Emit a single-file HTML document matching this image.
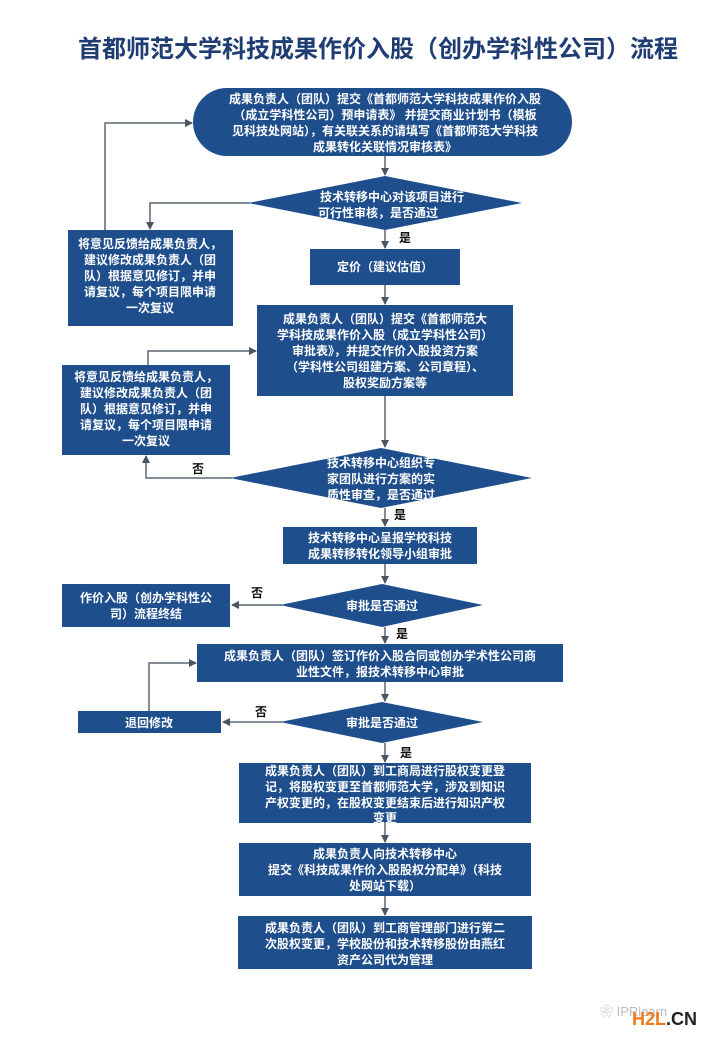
<!DOCTYPE html>
<html><head><meta charset="utf-8"><style>
html,body{margin:0;padding:0;background:#fff;}
svg{display:block;}
text{font-family:"Liberation Sans","Noto Sans CJK SC",sans-serif;}
.w{fill:#fff;font-size:12px;font-weight:bold;text-anchor:middle;}
.k{fill:#111;font-size:12px;font-weight:bold;}
.b{fill:#1f4e8d;}
.l{stroke:#5b6776;stroke-width:1.5;fill:none;}
</style></head><body>
<svg width="720" height="1040" viewBox="0 0 720 1040" xmlns="http://www.w3.org/2000/svg">
<defs><marker id="a" markerWidth="8" markerHeight="8" refX="7" refY="4" orient="auto" markerUnits="userSpaceOnUse"><path d="M0,0 L8,4 L0,8 z" fill="#4a5564"/></marker></defs>
<text x="378" y="57" style="font-size:24px;font-weight:bold;fill:#1f3d72;text-anchor:middle">首都师范大学科技成果作价入股（创办学科性公司）流程</text>

<path class="l" d="M385,156 V175" marker-end="url(#a)"/>
<path class="l" d="M385,230 V248" marker-end="url(#a)"/>
<path class="l" d="M385,285 V304" marker-end="url(#a)"/>
<path class="l" d="M385,396 V447" marker-end="url(#a)"/>
<path class="l" d="M385,508 V526" marker-end="url(#a)"/>
<path class="l" d="M385,564 V583" marker-end="url(#a)"/>
<path class="l" d="M385,627 V643" marker-end="url(#a)"/>
<path class="l" d="M385,682 V701" marker-end="url(#a)"/>
<path class="l" d="M385,743 V762" marker-end="url(#a)"/>
<path class="l" d="M385,823 V842" marker-end="url(#a)"/>
<path class="l" d="M385,896 V915" marker-end="url(#a)"/>
<path class="l" d="M250,203 H150 V229" marker-end="url(#a)"/>
<path class="l" d="M105,230 V123 H192" marker-end="url(#a)"/>
<path class="l" d="M148,365 V351 H256" marker-end="url(#a)"/>
<path class="l" d="M232,478 H146 V456" marker-end="url(#a)"/>
<path class="l" d="M282,605 H232" marker-end="url(#a)"/>
<path class="l" d="M282,722 H223" marker-end="url(#a)"/>
<path class="l" d="M149,711 V663 H196" marker-end="url(#a)"/>

<rect class="b" x="193" y="88" width="379" height="68" rx="34"/>
<text class="w" x="385" y="103">成果负责人（团队）提交《首都师范大学科技成果作价入股</text>
<text class="w" x="385" y="119">（成立学科性公司）预申请表》 并提交商业计划书（模板</text>
<text class="w" x="385" y="135">见科技处网站），有关联关系的请填写《首都师范大学科技</text>
<text class="w" x="385" y="151">成果转化关联情况审核表》</text>

<polygon class="b" points="385,176 522,203 385,230 248,203"/>
<text class="w" x="392" y="201">技术转移中心对该项目进行</text>
<text class="w" x="378" y="217">可行性审核，是否通过</text>
<text class="k" x="399" y="242">是</text>

<rect class="b" x="68" y="230" width="165" height="96"/>
<text class="w" x="150" y="248">将意见反馈给成果负责人，</text>
<text class="w" x="150" y="264">建议修改成果负责人（团</text>
<text class="w" x="150" y="280">队）根据意见修订，并申</text>
<text class="w" x="150" y="296">请复议，每个项目限申请</text>
<text class="w" x="150" y="312">一次复议</text>

<rect class="b" x="310" y="249" width="150" height="36"/>
<text class="w" x="385" y="271">定价（建议估值）</text>

<rect class="b" x="257" y="305" width="256" height="91"/>
<text class="w" x="385" y="323">成果负责人（团队）提交《首都师范大</text>
<text class="w" x="385" y="339">学科技成果作价入股（成立学科性公司）</text>
<text class="w" x="385" y="355">审批表》，并提交作价入股投资方案</text>
<text class="w" x="385" y="371">（学科性公司组建方案、公司章程）、</text>
<text class="w" x="385" y="387">股权奖励方案等</text>

<rect class="b" x="62" y="365" width="168" height="90"/>
<text class="w" x="146" y="381">将意见反馈给成果负责人，</text>
<text class="w" x="146" y="397">建议修改成果负责人（团</text>
<text class="w" x="146" y="413">队）根据意见修订，并申</text>
<text class="w" x="146" y="429">请复议，每个项目限申请</text>
<text class="w" x="146" y="445">一次复议</text>

<polygon class="b" points="381,448 532,478 381,508 230,478"/>
<text class="w" x="381" y="467">技术转移中心组织专</text>
<text class="w" x="381" y="483">家团队进行方案的实</text>
<text class="w" x="381" y="499">质性审查，是否通过</text>
<text class="k" x="192" y="473">否</text>
<text class="k" x="394" y="519">是</text>

<rect class="b" x="283" y="527" width="194" height="37"/>
<text class="w" x="380" y="542">技术转移中心呈报学校科技</text>
<text class="w" x="380" y="558">成果转移转化领导小组审批</text>

<polygon class="b" points="382,584 483,605 382,627 280,605"/>
<text class="w" x="382" y="610">审批是否通过</text>
<text class="k" x="251" y="597">否</text>
<text class="k" x="396" y="638">是</text>

<rect class="b" x="62" y="584" width="168" height="43"/>
<text class="w" x="146" y="602">作价入股（创办学科性公</text>
<text class="w" x="146" y="618">司）流程终结</text>

<rect class="b" x="197" y="644" width="366" height="38"/>
<text class="w" x="380" y="660">成果负责人（团队）签订作价入股合同或创办学术性公司商</text>
<text class="w" x="380" y="676">业性文件，报技术转移中心审批</text>

<polygon class="b" points="382,702 483,722 382,743 280,722"/>
<text class="w" x="382" y="727">审批是否通过</text>
<text class="k" x="255" y="716">否</text>
<text class="k" x="400" y="757">是</text>

<rect class="b" x="78" y="711" width="143" height="22"/>
<text class="w" x="149" y="727">退回修改</text>

<rect class="b" x="239" y="763" width="292" height="60"/>
<text class="w" x="385" y="775">成果负责人（团队）到工商局进行股权变更登</text>
<text class="w" x="385" y="791">记，将股权变更至首都师范大学，涉及到知识</text>
<text class="w" x="385" y="807">产权变更的，在股权变更结束后进行知识产权</text>
<text class="w" x="385" y="822">变更</text>

<rect class="b" x="239" y="843" width="292" height="53"/>
<text class="w" x="385" y="858">成果负责人向技术转移中心</text>
<text class="w" x="385" y="874">提交《科技成果作价入股股权分配单》（科技</text>
<text class="w" x="385" y="890">处网站下载）</text>

<rect class="b" x="238" y="916" width="294" height="53"/>
<text class="w" x="385" y="932">成果负责人（团队）到工商管理部门进行第二</text>
<text class="w" x="385" y="948">次股权变更，学校股份和技术转移股份由燕红</text>
<text class="w" x="385" y="964">资产公司代为管理</text>

<text x="600" y="1016" style="font-size:13px;fill:#bbb">❀ IPRlearn</text>
<text x="632" y="1025" style="font-size:18px;font-weight:bold;fill:#f07a1a">H2L<tspan fill="#222">.CN</tspan></text>
</svg>
</body></html>
